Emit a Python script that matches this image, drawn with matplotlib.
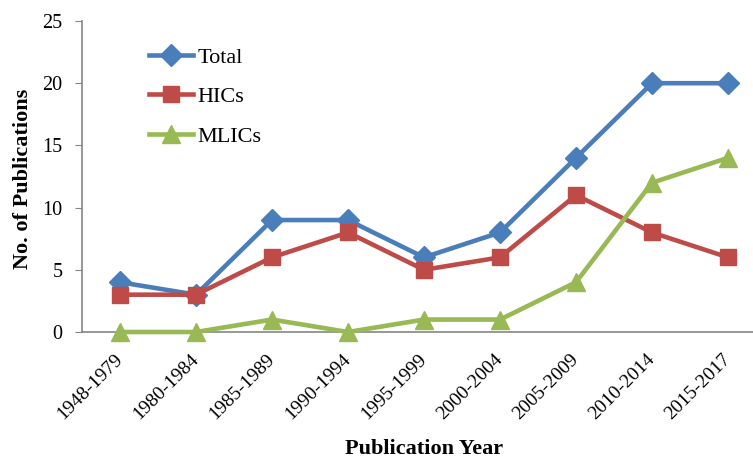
import numpy as np
import matplotlib.pyplot as plt

plt.rcParams['font.family'] = ['Liberation Serif', 'DejaVu Serif']

periods = ['1948-1979', '1980-1984', '1985-1989', '1990-1994', '1995-1999',
           '2000-2004', '2005-2009', '2010-2014', '2015-2017']
total = [4, 3, 9, 9, 6, 8, 14, 20, 20]
hics = [3, 3, 6, 8, 5, 6, 11, 8, 6]
mlics = [0, 0, 1, 0, 1, 1, 4, 12, 14]

fig = plt.figure(figsize=(7.53, 4.59), dpi=100)
# axes: left spine x=82px, y0 at 332px, y25 at 21px, right end beyond image
ax = fig.add_axes([82 / 753, 1 - 332 / 459, 684 / 753, 311 / 459])

x = np.arange(len(periods))
ax.plot(x, total, color='#4A7EBB', lw=3.3, marker='D', ms=11, label='Total',
        clip_on=False, zorder=3)
ax.plot(x, hics, color='#BE4B48', lw=3.3, marker='s', ms=11.5, label='HICs',
        clip_on=False, zorder=4)
ax.plot(x, mlics, color='#98B954', lw=3.3, marker='^', ms=12.5, label='MLICs',
        clip_on=False, zorder=5)

ax.set_xlim(-0.5, 8.5)
ax.set_ylim(0, 25)
ax.set_yticks(range(0, 26, 5))
ax.set_xticks(x)
ax.set_xticklabels(periods, rotation=45, ha='right', va='center',
                   rotation_mode='anchor')
ax.tick_params(axis='x', length=0, labelsize=14, pad=18)
ax.tick_params(axis='y', length=5, color='#868686', labelsize=14.5, pad=9)

for s in ['top', 'right']:
    ax.spines[s].set_visible(False)
for s in ['left', 'bottom']:
    ax.spines[s].set_color('#868686')
    ax.spines[s].set_linewidth(1.2)

ax.set_ylabel('No. of Publications', fontsize=16, fontweight='bold')
ax.set_xlabel('Publication Year', fontsize=16, fontweight='bold')
ax.xaxis.label.set_va('center')
ax.xaxis.set_label_coords((424 - 82) / 684, -(449 - 332) / 311)
ax.yaxis.label.set_va('center')
ax.yaxis.set_label_coords(-(82 - 23) / 684, (332 - 179) / 311)

ax.legend(loc='upper left', bbox_to_anchor=(0.068, 0.98), frameon=False,
          fontsize=16, labelspacing=0.85, handlelength=2.0, handletextpad=0.2)

fig.savefig('out.png', dpi=100)
